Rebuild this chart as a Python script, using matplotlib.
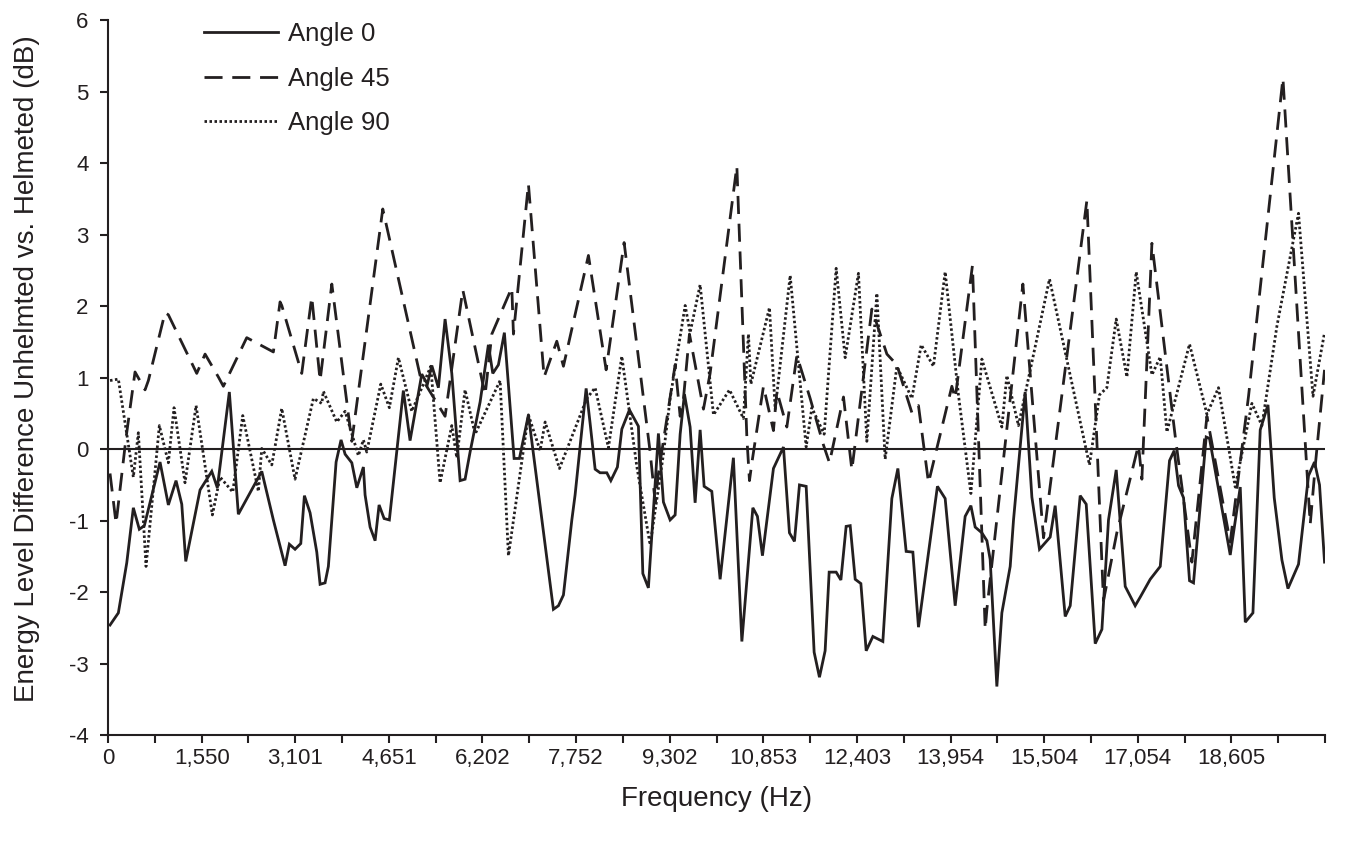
import matplotlib
matplotlib.use('Agg')
import matplotlib.pyplot as plt
import numpy as np

plt.rcParams['font.family'] = ['Liberation Sans', 'DejaVu Sans']

# Angle 0 (solid)
f0 = [33, 171, 310, 419, 518, 601, 861, 999, 1126, 1221, 1287, 1524, 1718, 1810, 2009, 2158,
      2546, 2738, 2932, 3003, 3097, 3192, 3252, 3346, 3457, 3512, 3594, 3649, 3777, 3859, 3926,
      4037, 4120, 4229, 4257, 4340, 4423, 4489, 4572, 4659, 4891, 5002, 5196, 5289, 5362, 5471,
      5582, 5693, 5831, 5913, 5996, 6162, 6299, 6372, 6465, 6564, 6725, 6813, 6962, 7376, 7459,
      7542, 7681, 7735, 7918, 7984, 8067, 8149, 8260, 8327, 8436, 8509, 8635, 8784, 8857, 8949,
      9115, 9198, 9309, 9392, 9475, 9546, 9640, 9723, 9806, 9872, 9999, 10137, 10357, 10497,
      10580, 10679, 10755, 10838, 11020, 11186, 11285, 11368, 11451, 11562, 11694, 11782, 11876,
      11943, 12059, 12137, 12224, 12291, 12374, 12468, 12556, 12667, 12832, 12981, 13081, 13218,
      13329, 13422, 13736, 13864, 14030, 14195, 14290, 14361, 14472, 14555, 14609, 14720, 14803,
      14941, 14996, 15189, 15300, 15426, 15603, 15686, 15852, 15935, 16100, 16200, 16349, 16460,
      16569, 16697, 16846, 17011, 17094, 17260, 17426, 17580, 17657, 17729, 17812, 17911, 17977,
      18187, 18242, 18585, 18751, 18834, 18961, 19082, 19210, 19314, 19441, 19541, 19716, 19882,
      19981, 20064, 20147]
a0 = [-2.46, -2.29, -1.59, -0.82, -1.12, -1.07, -0.18, -0.78, -0.44, -0.77, -1.57, -0.57, -0.31,
      -0.54, 0.80, -0.91, -0.31, -0.99, -1.63, -1.33, -1.40, -1.32, -0.65, -0.89, -1.44, -1.89,
      -1.87, -1.64, -0.18, 0.13, -0.07, -0.19, -0.54, -0.25, -0.64, -1.09, -1.28, -0.78, -0.97,
      -0.99, 0.82, 0.12, 1.05, 0.91, 1.17, 0.86, 1.82, 1.06, -0.44, -0.42, -0.04, 0.66, 1.46,
      1.06, 1.18, 1.63, -0.13, -0.13, 0.48, -2.24, -2.19, -2.04, -0.99, -0.64, 0.85, 0.36, -0.28,
      -0.33, -0.33, -0.44, -0.25, 0.28, 0.55, 0.32, -1.74, -1.94, 0.22, -0.74, -0.99, -0.92, 0.21,
      0.77, 0.31, -0.75, 0.27, -0.52, -0.59, -1.82, -0.12, -2.69, -1.84, -0.82, -0.94, -1.49,
      -0.27, 0.03, -1.17, -1.29, -0.50, -0.52, -2.84, -3.19, -2.82, -1.72, -1.72, -1.83, -1.08,
      -1.07, -1.82, -1.88, -2.82, -2.62, -2.69, -0.69, -0.27, -1.43, -1.44, -2.49, -0.52, -0.69,
      -2.19, -0.94, -0.79, -1.09, -1.17, -1.28, -1.54, -3.32, -2.29, -1.64, -0.99, 0.80, -0.67,
      -1.40, -1.23, -0.79, -2.34, -2.19, -0.65, -0.77, -2.72, -2.52, -0.99, -0.29, -1.92, -2.19,
      -2.07, -1.82, -1.64, -0.16, -0.02, -0.51, -0.68, -1.84, -1.87, 0.17, 0.15, -1.48, -0.53,
      -2.42, -2.29, 0.27, 0.62, -0.68, -1.55, -1.95, -1.61, -0.37, -0.18, -0.50, -1.58]

# Angle 45 (dashed)
f45 = [33, 133, 298, 447, 613, 668, 944, 999, 1469, 1607, 1827, 1910, 2297, 2738, 2849, 2877,
       3208, 3374, 3512, 3706, 4037, 4550, 5168, 5582, 5875, 6245, 6356, 6687, 6714, 6962, 7222,
       7432, 7542, 7956, 8249, 8547, 8978, 9061, 9115, 9392, 9475, 9530, 9629, 9861, 9971, 10414,
       10580, 10623, 10663, 10855, 11020, 11077, 11242, 11408, 11628, 11848, 11948, 12180, 12319,
       12650, 12899, 13064, 13313, 13422, 13588, 13975, 14030, 14316, 14527, 14555, 15151, 15493,
       16211, 16486, 16707, 17066, 17122, 17288, 17674, 17950, 18199, 18585, 18888, 19458, 19910,
       19998, 20147]
a45 = [-0.34, -1.04, 0.16, 1.08, 0.83, 0.96, 1.91, 1.88, 1.06, 1.33, 1.01, 0.88, 1.56, 1.36,
       2.06, 2.01, 1.06, 2.13, 0.96, 2.31, 0.11, 3.36, 1.03, 0.46, 2.23, 0.76, 1.61, 2.26, 1.61,
       3.71, 1.01, 1.51, 1.16, 2.71, 1.11, 2.89, -0.04, -0.74, -0.34, 1.18, 0.46, 0.71, 1.61,
       0.56, 1.06, 3.96, 0.16, -0.44, -0.19, 0.88, 0.26, 0.81, 0.31, 1.31, 0.71, 0.06, -0.19,
       0.73, -0.29, 1.96, 1.33, 1.18, 0.51, 0.61, -0.47, 0.88, 0.71, 2.57, -2.52, -2.24, 2.31,
       -1.24, 3.48, -2.12, -1.17, 0.06, -0.42, 2.88, 0.18, -1.58, 0.46, -1.30, 0.74, 5.19, -1.05,
       -0.19, 1.11]

# Angle 90 (dotted)
f90 = [33, 171, 419, 502, 629, 850, 999, 1093, 1275, 1458, 1728, 1855, 2066, 2231, 2490, 2546,
       2712, 2877, 3097, 3401, 3540, 3566, 3788, 3926, 4146, 4229, 4285, 4517, 4659, 4809, 5030,
       5223, 5345, 5499, 5693, 5776, 5913, 6079, 6493, 6631, 6962, 7156, 7239, 7476, 7929, 8067,
       8287, 8509, 8757, 8978, 9198, 9309, 9558, 9640, 9806, 10027, 10292, 10523, 10606, 10646,
       10954, 11049, 11297, 11562, 11656, 11860, 12059, 12208, 12428, 12567, 12733, 12870, 13064,
       13313, 13467, 13670, 13864, 14084, 14290, 14472, 14803, 14886, 15078, 15592, 16254, 16420,
       16542, 16697, 16874, 17028, 17288, 17426, 17536, 17911, 18199, 18391, 18668, 18944, 19110,
       19358, 19716, 19956, 20147]
a90 = [0.96, 0.98, -0.39, 0.23, -1.64, 0.33, -0.19, 0.58, -0.47, 0.61, -0.92, -0.39, -0.60, 0.47,
       -0.59, 0.01, -0.22, 0.57, -0.42, 0.71, 0.64, 0.81, 0.38, 0.53, -0.09, 0.13, -0.04, 0.91,
       0.58, 1.28, 0.53, 0.91, 1.16, -0.47, 0.33, -0.12, 0.83, 0.21, 0.96, -1.49, 0.48, -0.02,
       0.38, -0.27, 0.71, 0.86, 0.02, 1.30, -0.24, -1.34, -0.07, 0.71, 2.01, 1.63, 2.30, 0.48,
       0.83, 0.43, 1.61, 0.91, 1.98, 0.56, 2.43, 0.03, 0.58, 0.21, 2.53, 1.28, 2.46, 0.11, 2.18,
       -0.14, 1.16, 0.71, 1.46, 1.16, 2.48, 0.76, -0.62, 1.26, 0.31, 1.03, 0.33, 2.38, -0.22, 0.76,
       0.86, 1.82, 1.01, 2.48, 1.04, 1.29, 0.24, 1.47, 0.49, 0.86, -0.53, 0.64, 0.33, 1.72, 3.30,
       0.74, 1.63]

tick_labels = ['0', '1,550', '3,101', '4,651', '6,202', '7,752', '9,302', '10,853', '12,403',
               '13,954', '15,504', '17,054', '18,605']
y_ticks = [-4, -3, -2, -1, 0, 1, 2, 3, 4, 5, 6]

ink = '#231f20'

fig = plt.figure(figsize=(13.59, 8.44), dpi=100)
ax = fig.add_axes([0.0795, 0.129, 0.8955, 0.847])

ax.axhline(0, color=ink, lw=1.5, zorder=1)
ax.plot(f0, a0, color=ink, lw=2.0, label='Angle 0', solid_joinstyle='miter')
ax.plot(f45, a45, color=ink, lw=2.0, dashes=(6.5, 3.5), label='Angle 45')
ax.plot(f90, a90, color=ink, lw=2.0, dashes=(0.9, 0.9), label='Angle 90')

step = 1550.39 / 2
xt = np.arange(27) * step
ax.set_xlim(0, xt[-1])
ax.set_ylim(-4, 6)
ax.set_xticks(xt)
ax.set_xticklabels([tick_labels[i // 2] if i % 2 == 0 and i // 2 < len(tick_labels) else ''
                    for i in range(len(xt))])
ax.set_yticks(y_ticks)
ax.set_yticklabels([str(v) for v in y_ticks])

for s in ['top', 'right']:
    ax.spines[s].set_visible(False)
for s in ['left', 'bottom']:
    ax.spines[s].set_linewidth(1.5)
    ax.spines[s].set_color(ink)
ax.tick_params(axis='both', direction='out', length=6, width=1.5, color=ink,
               labelsize=16, labelcolor=ink)
ax.tick_params(axis='x', pad=3.5)
ax.tick_params(axis='y', pad=8)

ax.set_xlabel('Frequency (Hz)', fontsize=20, color=ink)
ax.set_ylabel('Energy Level Difference Unhelmted vs. Helmeted (dB)', fontsize=20, color=ink)
ax.xaxis.set_label_coords(0.5, -0.071)
ax.yaxis.set_label_coords(-0.056, 0.513)

ax.legend(loc='upper left', bbox_to_anchor=(0.068, 1.015), frameon=False, fontsize=18.5,
          handlelength=2.9, handletextpad=0.4, labelspacing=0.8, borderpad=0,
          labelcolor=ink)

fig.savefig('out.png', dpi=100)
